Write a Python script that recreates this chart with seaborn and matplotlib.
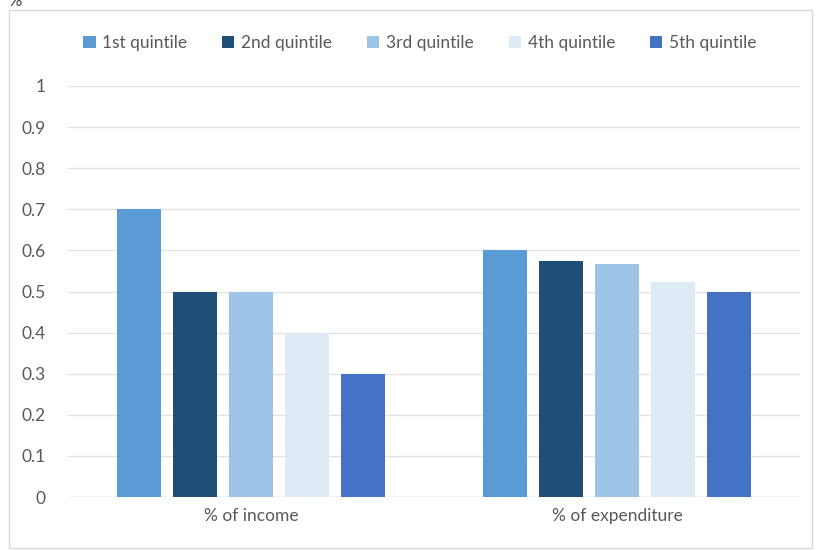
import numpy as np
import pandas as pd
import matplotlib.pyplot as plt
import seaborn as sns
from matplotlib.patches import Rectangle

categorias = ['% of income', '% of expenditure']
quintis = ['1st quintile', '2nd quintile', '3rd quintile', '4th quintile', '5th quintile']
renda = [0.7, 0.5, 0.5, 0.4, 0.3]
despesa = [0.6, 0.575, 0.567, 0.523, 0.5]
cores = ['#5B9BD5', '#1F4E79', '#9DC3E6', '#DEEBF7', '#4472C4']

df = pd.DataFrame({
    'categoria': [categorias[0]] * 5 + [categorias[1]] * 5,
    'quintil': quintis * 2,
    'valor': renda + despesa,
})

sns.set_style('white')
plt.rcParams['font.family'] = ['Lato', 'DejaVu Sans']

fig = plt.figure(figsize=(8.19, 5.51), dpi=100)
ax = fig.add_axes([68 / 819, 1 - 497 / 551, (800 - 68) / 819, (497 - 86) / 551])

sns.barplot(data=df, x='categoria', y='valor', hue='quintil', palette=cores,
            saturation=1, width=0.765, gap=0.214, linewidth=0, ax=ax, legend=True)

ax.set_ylim(0, 1)
ax.set_yticks(np.arange(0, 1.01, 0.1))
ax.set_yticklabels(['0', '0.1', '0.2', '0.3', '0.4', '0.5', '0.6', '0.7', '0.8', '0.9', '1'])
ax.yaxis.grid(True, color='#E3E3E3', linewidth=1)
ax.set_axisbelow(True)
for s in ax.spines.values():
    s.set_visible(False)
ax.axhline(0, color='#D9D9D9', linewidth=1, zorder=0)
ax.set_xlabel('')
ax.set_ylabel('')
ax.tick_params(axis='both', length=0, labelsize=12.5, labelcolor='#595959')
ax.tick_params(axis='y', pad=16)
ax.tick_params(axis='x', pad=8)

handles, labels = ax.get_legend_handles_labels()
ax.legend_.remove()
fig.legend(handles, labels, loc='center', bbox_to_anchor=(420 / 819, 1 - 43 / 551),
           ncol=5, frameon=False, fontsize=12.5, labelcolor='#595959',
           handlelength=0.7, handleheight=0.7, handletextpad=0.4, columnspacing=2.0)

# moldura do grafico
fig.patches.append(Rectangle((9 / 819, 1 - 548 / 551), (812 - 9) / 819, (548 - 10) / 551,
                             transform=fig.transFigure, fill=False,
                             edgecolor='#D9D9D9', linewidth=1))
fig.text(8 / 819, 1 - 1 / 551, '%', fontsize=12, color='#404040', va='center', ha='left')

fig.savefig('out.png', dpi=100)
